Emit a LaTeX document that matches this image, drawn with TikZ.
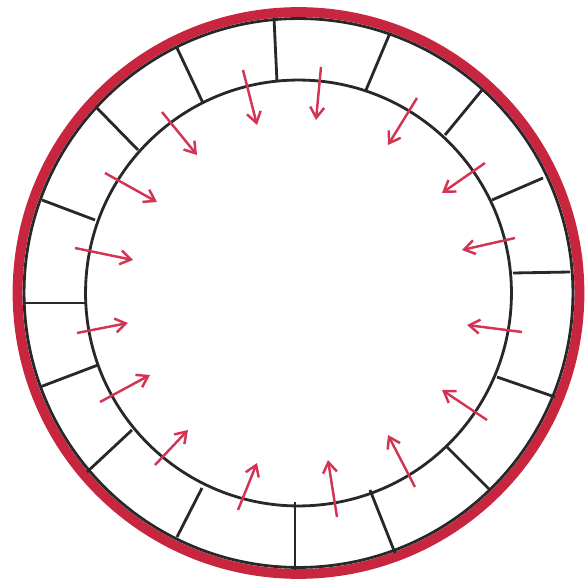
\documentclass[tikz,border=0pt]{standalone}
\usepackage{tikz}
\usetikzlibrary{arrows.meta}
\definecolor{ringred}{RGB}{200, 38, 62}
\definecolor{pushred}{RGB}{212, 52, 84}
\definecolor{inkgray}{RGB}{40, 40, 40}

\begin{document}
\begin{tikzpicture}[
    x=0.02cm, y=-0.02cm,
    wall/.style={draw=inkgray, line width=1.6pt},
    rim/.style={draw=ringred, line width=5.6pt},
    push/.style={-{Straight Barb[length=6pt, width=8pt]}, draw=pushred, line width=1.4pt}
]
\useasboundingbox (0,0) rectangle (586,581);

% centre of the drum
\coordinate (c) at (298.5,293);

% outer red rim and the two black walls
\draw[rim] (c) circle[radius=5.62cm];
\draw[wall] (c) circle[radius=5.49cm];
\draw[wall] (c) circle[radius=4.26cm];

% dividers between the walls (outer end / inner end)
\foreach \xo/\yo/\xi/\yi in {274/18/277/82, 177/48/203/103, 97/108/138/150, 42/200/95/220,
    23/303/87/303, 40/387/98/365, 87/472/132/430, 177/537/202/488,
    295/570/295/502, 395/553/370/490, 490/490/447/447, 555/397/497/377,
    570/272/513/273, 543/178/492/200, 482/90/445/135, 390/33/366/90}
{
    \coordinate (o) at (\xo,\yo);
    \coordinate (i) at (\xi,\yi);
    \draw[wall] (o) -- (i);
}

% inward pushing arrows
\foreach \xa/\ya/\xb/\yb in {243/70/257/125, 162/112/197/155, 105/173/157/202, 75/248/133/260,
    77/333/128/323, 100/402/150/375, 155/465/188/430, 238/510/257/463,
    337/517/328/460, 415/487/388/435, 487/420/442/390, 522/332/467/325,
    515/238/462/250, 485/163/442/193, 417/98/388/145, 321/67/316/120}
{
    \coordinate (s) at (\xa,\ya);
    \coordinate (t) at (\xb,\yb);
    \draw[push] (s) -- (t);
}

\end{tikzpicture}
\end{document}
